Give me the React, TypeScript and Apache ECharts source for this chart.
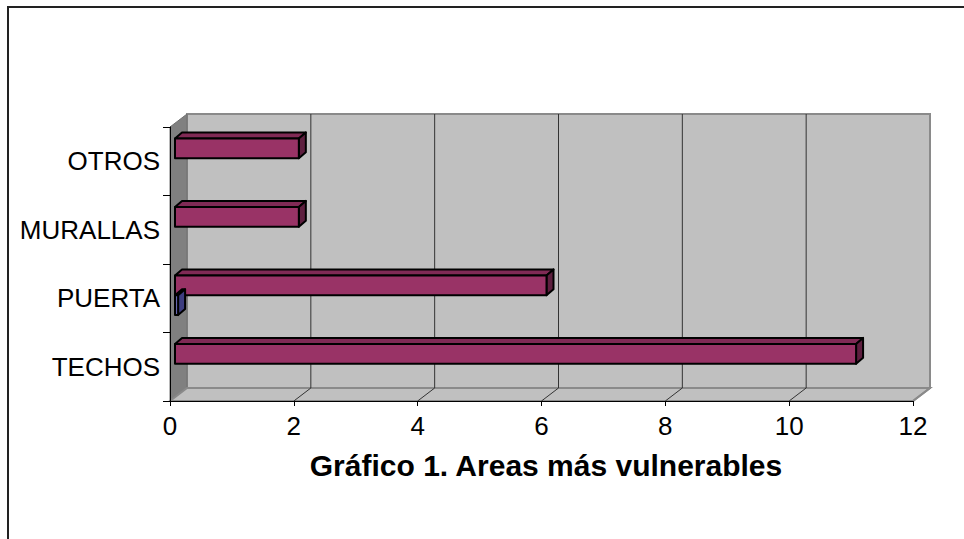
import React, { useEffect, useRef } from "react";
import * as echarts from "echarts";

const categories = ["TECHOS", "PUERTA", "MURALLAS", "OTROS"];
const seriesA = [11, 6, 2, 2];
const seriesB = [0, 0.05, 0, 0];
const xTicks = [0, 2, 4, 6, 8, 10, 12];
const titleText = "Gráfico 1. Areas más vulnerables";

const DEPTH_X = 17;
const DEPTH_Y = -13;
const BAR_SHIFT_X = 5;
const BAR_SHIFT_Y = -3;
const BAR_DX = 7;
const BAR_DY = -6;

export default function App() {
  const ref = useRef<HTMLDivElement>(null);

  useEffect(() => {
    if (!ref.current) return;
    const chart = echarts.init(ref.current, undefined, { renderer: "svg" });

    const renderWalls = (params: any, api: any) => {
      const cs = params.coordSys;
      const x0 = cs.x, y0 = cs.y, x1 = cs.x + cs.width, y1 = cs.y + cs.height;
      const dx = DEPTH_X, dy = DEPTH_Y;
      const children: any[] = [];
      children.push({
        type: "rect",
        shape: { x: x0 + dx, y: y0 + dy, width: x1 - x0, height: y1 - y0 },
        style: { fill: "#c0c0c0", stroke: "#8a8a8a", lineWidth: 2 },
      });
      children.push({
        type: "polygon",
        shape: { points: [[x0, y0], [x0 + dx, y0 + dy], [x0 + dx, y1 + dy], [x0, y1]] },
        style: { fill: "#808080", stroke: "#707070", lineWidth: 1 },
      });
      children.push({
        type: "polygon",
        shape: { points: [[x0, y1], [x0 + dx, y1 + dy], [x1 + dx, y1 + dy], [x1, y1]] },
        style: { fill: "#c0c0c0", stroke: "#8a8a8a", lineWidth: 2 },
      });
      xTicks.forEach((t) => {
        const px = api.coord([t, 0])[0];
        if (t > 0 && t < 12) {
          children.push({
            type: "line",
            shape: { x1: px + dx, y1: y0 + dy, x2: px + dx, y2: y1 + dy },
            style: { stroke: "#333333", lineWidth: 1 },
          });
        }
        if (t > 0) {
          children.push({
            type: "line",
            shape: { x1: px, y1: y1, x2: px + dx, y2: y1 + dy },
            style: { stroke: t === 12 ? "#8a8a8a" : "#333333", lineWidth: t === 12 ? 2 : 1 },
          });
        }
      });
      return { type: "group", children };
    };

    const makeBarRenderer = (slot: number, front: string, top: string, end: string) =>
      (params: any, api: any) => {
        const val = api.value(0);
        const idx = api.value(1);
        if (!val) return { type: "group", children: [] };
        const p0 = api.coord([0, idx]);
        const p1 = api.coord([val, idx]);
        const band = api.size([0, 1])[1];
        const h = band * 0.29;
        const yTop = p0[1] - h + slot * h + BAR_SHIFT_Y;
        const yBot = yTop + h;
        const xa = p0[0] + BAR_SHIFT_X;
        const xb = p1[0] + BAR_SHIFT_X;
        const st = { stroke: "#000000", lineWidth: 2, lineJoin: "round" };
        return {
          type: "group",
          children: [
            {
              type: "polygon",
              shape: { points: [[xa, yTop], [xa + BAR_DX, yTop + BAR_DY], [xb + BAR_DX, yTop + BAR_DY], [xb, yTop]] },
              style: { fill: top, ...st },
            },
            {
              type: "polygon",
              shape: { points: [[xb, yTop], [xb + BAR_DX, yTop + BAR_DY], [xb + BAR_DX, yBot + BAR_DY], [xb, yBot]] },
              style: { fill: end, ...st },
            },
            {
              type: "rect",
              shape: { x: xa, y: yTop, width: xb - xa, height: h },
              style: { fill: front, ...st },
            },
          ],
        };
      };

    chart.setOption({
      animation: false,
      backgroundColor: "#ffffff",
      grid: { left: 170, right: 51, top: 127, bottom: 138 },
      xAxis: {
        type: "value",
        min: 0,
        max: 12,
        interval: 2,
        z: 5,
        axisLine: { show: true, lineStyle: { color: "#000000", width: 1 } },
        axisTick: { show: true, length: 5, lineStyle: { color: "#000000" } },
        axisLabel: { fontSize: 26, color: "#000000", margin: 12, fontFamily: "Liberation Sans, Arial, sans-serif" },
        splitLine: { show: false },
      },
      yAxis: {
        type: "category",
        data: categories,
        z: 5,
        axisLine: { show: true, lineStyle: { color: "#000000", width: 1 } },
        axisTick: { show: true, length: 7, lineStyle: { color: "#000000" } },
        axisLabel: { fontSize: 26, color: "#000000", margin: 10, fontFamily: "Liberation Sans, Arial, sans-serif" },
        splitLine: { show: false },
      },
      graphic: [
        {
          type: "rect",
          shape: { x: 8, y: 7, width: 1100, height: 700 },
          style: { fill: "none", stroke: "#222222", lineWidth: 2 },
          silent: true,
          z: 10,
        },
        {
          type: "text",
          x: 546,
          y: 465,
          style: {
            text: titleText,
            fontSize: 30,
            fontWeight: "bold",
            fill: "#000000",
            fontFamily: "Liberation Sans, Arial, sans-serif",
            align: "center",
            verticalAlign: "middle",
          },
          z: 10,
        },
      ],
      series: [
        {
          type: "custom",
          name: "walls",
          z: 1,
          silent: true,
          renderItem: renderWalls,
          data: [[0, 0]],
        },
        {
          type: "custom",
          name: "Serie 1",
          z: 3,
          renderItem: makeBarRenderer(0, "#993366", "#802a55", "#5e1f3f"),
          data: seriesA.map((v, i) => [v, i]),
        },
        {
          type: "custom",
          name: "Serie 2",
          z: 3,
          renderItem: makeBarRenderer(1, "#6666b0", "#55559a", "#3d3d80"),
          data: seriesB.map((v, i) => [v, i]),
        },
      ],
    });

    return () => chart.dispose();
  }, []);

  return (
    <div
      ref={ref}
      style={{ position: "absolute", left: 0, top: 0, width: 964, height: 539 }}
    />
  );
}
